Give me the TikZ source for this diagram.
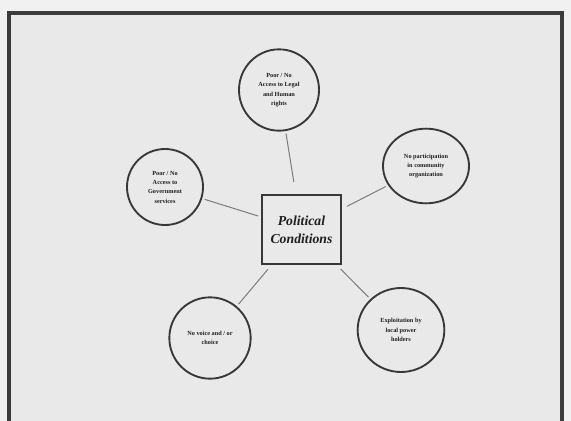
\documentclass[tikz,border=0pt]{standalone}
\usepackage{fontspec}
\setmainfont{Liberation Serif}
\usetikzlibrary{shapes.geometric}
\definecolor{paper}{HTML}{F1F1F1}
\definecolor{slide}{HTML}{E9E9E9}
\definecolor{frameline}{HTML}{3C3C3C}
\definecolor{ringline}{HTML}{383838}
\definecolor{linkline}{HTML}{7C7C7C}
\definecolor{ink}{HTML}{1E1E1E}
\begin{document}
\begin{tikzpicture}[x=0.75pt,y=-0.75pt,
  bubble/.style={ellipse, draw=ringline, line width=1.4pt, inner sep=0pt,
    align=center, text=ink, font=\fontsize{4.7}{7}\selectfont\bfseries},
  centrebox/.style={rectangle, draw=ringline, line width=1.8pt,
    minimum width=59.25pt, minimum height=51.75pt, inner sep=0pt, align=center,
    text=ink, font=\fontsize{10.3}{13.5}\selectfont\bfseries\itshape},
  link/.style={draw=linkline, line width=0.75pt, shorten <=2pt, shorten >=2pt}]
  \useasboundingbox (0,0) rectangle (571,421);
  \clip (0,0) rectangle (571,421);
  % page and slide area
  \fill[paper] (0,0) rectangle (571,421);
  \fill[slide] (9,13) rectangle (562,440);
  \draw[frameline, line width=2.3pt] (9,440) -- (9,13) -- (562,13) -- (562,440);

  % central box
  \node[centrebox] (pc) at (301.5,229.5) {Political\\Conditions};

  % surrounding conditions
  \node[bubble, minimum width=60pt, minimum height=61pt] (legal) at (279,90)
    {Poor / No\\Access to Legal\\and Human\\rights};
  \node[bubble, minimum width=64.5pt, minimum height=56pt] (comm) at (426,166)
    {No participation\\in community\\organization};
  \node[bubble, minimum width=57pt, minimum height=57pt] (gov) at (165,187)
    {Poor / No\\Access to\\Government\\services};
  \node[bubble, minimum width=61pt, minimum height=61pt] (voice) at (210,338)
    {No voice and / or\\choice};
  \node[bubble, minimum width=65pt, minimum height=63pt] (expl) at (401,330)
    {Exploitation by\\local power\\holders};

  % connectors
  \draw[link, shorten >=9pt] (legal) -- (pc);
  \draw[link] (gov) -- (pc);
  \draw[link, shorten >=4pt] (comm) -- (pc);
  \draw[link, shorten <=4pt] (pc) -- (voice);
  \draw[link, shorten <=4pt] (pc) -- (expl);
\end{tikzpicture}
\end{document}
